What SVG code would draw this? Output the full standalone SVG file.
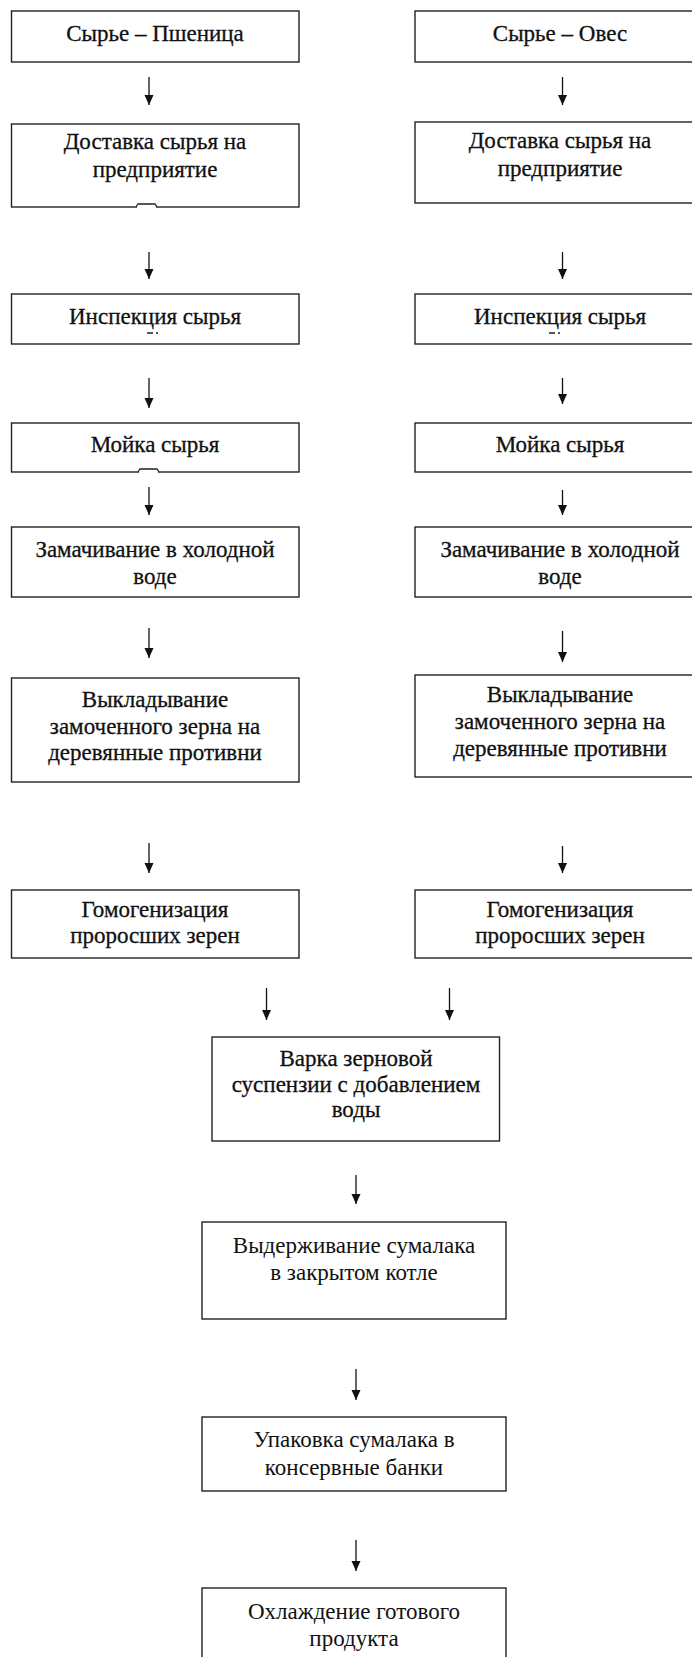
<svg xmlns="http://www.w3.org/2000/svg" width="692" height="1657" viewBox="0 0 692 1657">
<style>
.box{fill:#fff;stroke:#222;stroke-width:1.4}
.t{font-family:"Liberation Serif","Times New Roman",serif;font-size:23px;fill:#111;text-anchor:middle}
.u{stroke:#111;stroke-width:0.3}
.c{stroke:#111;stroke-width:1.3;fill:none}
.mk{stroke:#222;stroke-width:1.3;fill:none}
</style>
<defs>
<marker id="ah" markerUnits="userSpaceOnUse" markerWidth="9" markerHeight="11" refX="4.5" refY="10" orient="0" viewBox="0 0 9 11" overflow="visible">
<path d="M0,0 L9,0 L4.5,10 z" fill="#111"/>
</marker>
</defs>
<rect width="692" height="1657" fill="#fff"/>

<g id="L1"><rect class="box" x="11.5" y="11" width="287.5" height="51"/><text class="t u" x="155" y="41">Сырье – Пшеница</text></g>
<g id="R1"><rect class="box" x="415" y="11" width="290" height="51"/><text class="t u" x="560" y="41">Сырье – Овес</text></g>

<g id="L2"><rect class="box" x="11.5" y="124" width="287.5" height="83"/><path d="M137,207.5 H156" stroke="#fff" stroke-width="3"/><path class="mk" d="M136,207 L138,204 H155 L157,207"/><text class="t u" x="155" y="149">Доставка сырья на</text><text class="t u" x="155" y="177">предприятие</text></g>
<g id="R2"><rect class="box" x="415" y="122" width="290" height="81"/><text class="t u" x="560" y="148">Доставка сырья на</text><text class="t u" x="560" y="176">предприятие</text></g>

<g id="L3"><rect class="box" x="11.5" y="294" width="287.5" height="50"/><text class="t u" x="155" y="324">Инспекция сырья</text><path class="mk" d="M147,333 H153 M156,333 H158"/></g>
<g id="R3"><rect class="box" x="415" y="294" width="290" height="50"/><text class="t u" x="560" y="324">Инспекция сырья</text><path class="mk" d="M549,333 H555 M558,333 H560"/></g>

<g id="L4"><rect class="box" x="11.5" y="423" width="287.5" height="49"/><path d="M139,472.5 H158" stroke="#fff" stroke-width="3"/><path class="mk" d="M138,472 L140,469 H157 L159,472"/><text class="t u" x="155" y="452">Мойка сырья</text></g>
<g id="R4"><rect class="box" x="415" y="423" width="290" height="49"/><text class="t u" x="560" y="452">Мойка сырья</text></g>

<g id="L5"><rect class="box" x="11.5" y="527" width="287.5" height="70"/><text class="t u" x="155" y="557">Замачивание в холодной</text><text class="t u" x="155" y="584">воде</text></g>
<g id="R5"><rect class="box" x="415" y="527" width="290" height="70"/><text class="t u" x="560" y="557">Замачивание в холодной</text><text class="t u" x="560" y="584">воде</text></g>

<g id="L6"><rect class="box" x="11.5" y="678" width="287.5" height="104"/><text class="t u" x="155" y="707">Выкладывание</text><text class="t u" x="155" y="734">замоченного зерна на</text><text class="t u" x="155" y="760">деревянные противни</text></g>
<g id="R6"><rect class="box" x="415" y="675" width="290" height="102"/><text class="t u" x="560" y="702">Выкладывание</text><text class="t u" x="560" y="729">замоченного зерна на</text><text class="t u" x="560" y="756">деревянные противни</text></g>

<g id="L7"><rect class="box" x="11.5" y="890" width="287.5" height="68"/><text class="t u" x="155" y="917">Гомогенизация</text><text class="t u" x="155" y="943">проросших зерен</text></g>
<g id="R7"><rect class="box" x="415" y="890" width="290" height="68"/><text class="t u" x="560" y="917">Гомогенизация</text><text class="t u" x="560" y="943">проросших зерен</text></g>

<g id="C8"><rect class="box" x="212" y="1037" width="287.5" height="104"/><text class="t u" x="356" y="1066">Варка зерновой</text><text class="t u" x="356" y="1092">суспензии с добавлением</text><text class="t u" x="356" y="1117">воды</text></g>
<g id="C9"><rect class="box" x="202" y="1222" width="304" height="97"/><text class="t" x="354" y="1253">Выдерживание сумалака</text><text class="t" x="354" y="1280">в закрытом котле</text></g>
<g id="C10"><rect class="box" x="202" y="1417" width="304" height="74"/><text class="t" x="354" y="1447">Упаковка сумалака в</text><text class="t" x="354" y="1475">консервные банки</text></g>
<g id="C11"><rect class="box" x="202" y="1588" width="304" height="80"/><text class="t" x="354" y="1619">Охлаждение готового</text><text class="t" x="354" y="1646">продукта</text></g>

<g id="connectors">
<line class="c" x1="149" y1="77" x2="149" y2="105" marker-end="url(#ah)"/>
<line class="c" x1="562.5" y1="77" x2="562.5" y2="105" marker-end="url(#ah)"/>
<line class="c" x1="149" y1="252" x2="149" y2="279" marker-end="url(#ah)"/>
<line class="c" x1="562.5" y1="252" x2="562.5" y2="279" marker-end="url(#ah)"/>
<line class="c" x1="149" y1="378" x2="149" y2="408" marker-end="url(#ah)"/>
<line class="c" x1="562.5" y1="378" x2="562.5" y2="404" marker-end="url(#ah)"/>
<line class="c" x1="149" y1="487" x2="149" y2="515" marker-end="url(#ah)"/>
<line class="c" x1="562.5" y1="490" x2="562.5" y2="515" marker-end="url(#ah)"/>
<line class="c" x1="149" y1="628" x2="149" y2="658" marker-end="url(#ah)"/>
<line class="c" x1="562.5" y1="631" x2="562.5" y2="662" marker-end="url(#ah)"/>
<line class="c" x1="149" y1="843" x2="149" y2="873" marker-end="url(#ah)"/>
<line class="c" x1="562.5" y1="846" x2="562.5" y2="873" marker-end="url(#ah)"/>
<line class="c" x1="266.5" y1="988" x2="266.5" y2="1020" marker-end="url(#ah)"/>
<line class="c" x1="449.5" y1="988" x2="449.5" y2="1020" marker-end="url(#ah)"/>
<line class="c" x1="356" y1="1175" x2="356" y2="1204" marker-end="url(#ah)"/>
<line class="c" x1="356" y1="1369" x2="356" y2="1400" marker-end="url(#ah)"/>
<line class="c" x1="356" y1="1540" x2="356" y2="1571" marker-end="url(#ah)"/>
</g>
</svg>
